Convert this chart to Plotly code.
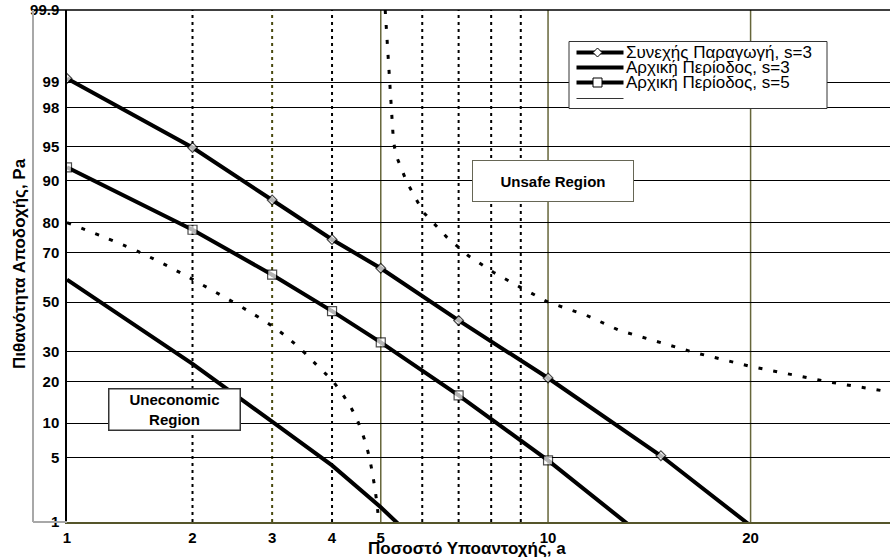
import plotly.graph_objects as go
from statistics import NormalDist

# ---------------- data (percent values) ----------------
x_cont = [1, 2, 3, 4, 5, 7, 10, 15, 20]
p_cont = [99.1, 94.9, 86.0, 74.6, 64.0, 42.3, 21.1, 5.2, 0.9]

x_init3 = [1, 2, 3, 4, 5, 5.5]
p_init3 = [59.4, 25.7, 10.3, 4.2, 1.5, 0.85]

x_init5 = [1, 2, 3, 4, 5, 7, 10, 14]
p_init5 = [92.3, 77.8, 61.4, 46.2, 33.5, 16.2, 4.7, 0.7]

x_uneco = [1, 1.5, 2, 3, 3.41, 3.8, 4, 4.25, 4.48, 4.7, 4.84, 4.93, 4.96]
p_uneco = [80, 70.2, 59.5, 40, 31.7, 23.8, 20.4, 15.5, 10.9, 6.1, 3.0, 1.4, 0.9]

x_unsafe = [5.10, 5.21, 5.25, 5.29, 5.35, 5.61, 6.03, 6.66, 7.28, 8.07, 8.97, 10,
            11.55, 13, 16.7, 19.2, 20, 25.1, 29.3, 30]
p_unsafe = [99.9, 99, 98, 95.6, 94, 89.8, 82.9, 75.4, 68.9, 62.4, 56.3, 50,
            44.4, 38.2, 29.8, 25.9, 24.8, 19.9, 17.1, 16.8]

y_ticks = [1, 5, 10, 20, 30, 50, 70, 80, 90, 95, 98, 99, 99.9]
y_tick_text = ["1", "5", "10", "20", "30", "50", "70", "80", "90", "95", "98", "99", "99.9"]
x_ticks = [1, 2, 3, 4, 5, 10, 20]
x_dotted_grid = [2, 4, 6, 7, 8, 9]
x_olive_dotted_grid = [3]
x_solid_grid = [5, 10, 20]
x_max = 29.5

legend_names = ["Συνεχής Παραγωγή, s=3", "Αρχική Περίοδος, s=3", "Αρχική Περίοδος, s=5"]

# ---------------- helpers ----------------
ND = NormalDist()


def probit(p):
    return ND.inv_cdf(p / 100.0)


def pz(vals):
    return [probit(v) for v in vals]


W, H = 890, 560
ML, MR, MT, MB = 67, 0, 10, 38
PW, PH = W - ML - MR, H - MT - MB


def fx(px):  # pixel x -> paper
    return (px - ML) / PW


def fy(py):  # pixel y -> paper
    return (H - MB - py) / PH


FONT = "Liberation Sans, Arial, sans-serif"
OLIVE = "#66663a"

fig = go.Figure()

dot_style = dict(color="black", width=3, dash="4px,11px")
fig.add_trace(go.Scatter(x=pz(x_uneco), y=pz(p_uneco), mode="lines", line=dot_style,
                         line_shape="spline", showlegend=False, hoverinfo="skip"))
fig.add_trace(go.Scatter(x=pz(x_unsafe), y=pz(p_unsafe), mode="lines", line=dot_style,
                         showlegend=False, hoverinfo="skip"))

fig.add_trace(go.Scatter(x=pz(x_init3), y=pz(p_init3), mode="lines",
                         line=dict(color="black", width=4), name=legend_names[1],
                         showlegend=False))
fig.add_trace(go.Scatter(x=pz(x_init5), y=pz(p_init5), mode="lines+markers",
                         line=dict(color="black", width=4), name=legend_names[2],
                         marker=dict(symbol="square", size=[9] * (len(x_init5) - 1) + [0],
                                     color="white", line=dict(color="black", width=1.2)),
                         showlegend=False))
fig.add_trace(go.Scatter(x=pz(x_cont), y=pz(p_cont), mode="lines+markers",
                         line=dict(color="black", width=4), name=legend_names[0],
                         marker=dict(symbol="diamond", size=[7.5] * (len(x_cont) - 1) + [0],
                                     color="white", line=dict(color="black", width=1.2)),
                         showlegend=False))

shapes = []
# vertical gridlines
for v in x_dotted_grid:
    shapes.append(dict(type="line", xref="x", yref="paper", x0=probit(v), x1=probit(v),
                       y0=0, y1=1, layer="below",
                       line=dict(color="black", width=2, dash="3px,4px")))
for v in x_olive_dotted_grid:
    shapes.append(dict(type="line", xref="x", yref="paper", x0=probit(v), x1=probit(v),
                       y0=0, y1=1, layer="below",
                       line=dict(color="#4a4a10", width=2, dash="3px,4px")))
for v in x_solid_grid:
    shapes.append(dict(type="line", xref="x", yref="paper", x0=probit(v), x1=probit(v),
                       y0=0, y1=1, layer="below",
                       line=dict(color=OLIVE, width=1.5)))

# outer frame (label area)
shapes.append(dict(type="line", xref="paper", yref="paper", x0=fx(33), x1=1, y0=1, y1=1,
                   line=dict(color="black", width=1.5)))
shapes.append(dict(type="line", xref="paper", yref="paper", x0=fx(33), x1=fx(33), y0=0, y1=1,
                   line=dict(color="#a8a8a8", width=2)))
shapes.append(dict(type="line", xref="paper", yref="paper", x0=fx(33), x1=0, y0=0, y1=0,
                   line=dict(color="#a8a8a8", width=2)))

# manual legend
shapes.append(dict(type="rect", xref="paper", yref="paper", x0=fx(569), x1=fx(827),
                   y0=fy(108.5), y1=fy(41.5), fillcolor="white",
                   line=dict(color="#333333", width=1)))
leg_rows = [52.5, 67.5, 82.5]
for ry in leg_rows:
    shapes.append(dict(type="line", xref="paper", yref="paper", x0=fx(576.5), x1=fx(623.5),
                       y0=fy(ry), y1=fy(ry), line=dict(color="black", width=4)))
shapes.append(dict(type="line", xref="paper", yref="paper", x0=fx(576.5), x1=fx(623.5),
                   y0=fy(98.5), y1=fy(98.5), line=dict(color="#333333", width=1)))
shapes.append(dict(type="path", xref="paper", yref="paper", xsizemode="pixel", ysizemode="pixel",
                   xanchor=fx(597.5), yanchor=fy(leg_rows[0]),
                   path="M -4.5 0 L 0 4.5 L 4.5 0 L 0 -4.5 Z", fillcolor="white",
                   line=dict(color="black", width=1)))
shapes.append(dict(type="rect", xref="paper", yref="paper", xsizemode="pixel", ysizemode="pixel",
                   xanchor=fx(597.5), yanchor=fy(leg_rows[2]), x0=-4.5, x1=4.5, y0=-4.5, y1=4.5,
                   fillcolor="white", line=dict(color="black", width=1)))

annotations = []
for ry, name in zip(leg_rows, legend_names):
    annotations.append(dict(text=name, xref="paper", yref="paper", x=fx(624), y=fy(ry - 0.5),
                            xanchor="left", yanchor="middle", showarrow=False,
                            font=dict(family=FONT, size=17, color="black")))

annotations.append(dict(text="<b>Unsafe Region</b>", xref="paper", yref="paper",
                        x=fx(552.5), y=fy(181), xanchor="center", yanchor="middle",
                        showarrow=False, width=158, height=38, bgcolor="white",
                        bordercolor="#666655", borderwidth=1, borderpad=1,
                        font=dict(family=FONT, size=15, color="black")))
annotations.append(dict(text="<b>Uneconomic<br>Region</b>", xref="paper", yref="paper",
                        x=fx(174), y=fy(409.5), xanchor="center", yanchor="middle",
                        showarrow=False, width=128, height=38, bgcolor="white",
                        bordercolor="#333333", borderwidth=1.5, borderpad=1,
                        font=dict(family=FONT, size=15, color="black")))

annotations.append(dict(text="<b>Ποσοστό Υποαντοχής, a</b>", xref="paper", yref="paper",
                        x=fx(466.5), y=fy(548), xanchor="center", yanchor="middle",
                        showarrow=False, font=dict(family=FONT, size=17, color="black")))
annotations.append(dict(text="<b>Πιθανότητα Αποδοχής, Pa</b>", xref="paper", yref="paper",
                        x=fx(19), y=fy(264), xanchor="center", yanchor="middle", textangle=-90,
                        showarrow=False, font=dict(family=FONT, size=17, color="black")))

fig.update_layout(
    width=W, height=H,
    margin=dict(l=ML, r=MR, t=MT, b=MB),
    paper_bgcolor="white", plot_bgcolor="white",
    shapes=shapes, annotations=annotations,
    showlegend=False,
    font=dict(family=FONT, color="black"),
    xaxis=dict(range=[probit(1), probit(x_max)], tickvals=pz(x_ticks),
               ticktext=[str(v) for v in x_ticks], showgrid=False, zeroline=False,
               showline=True, linecolor="#55552a", linewidth=1.5,
               ticks="outside", ticklen=1, tickcolor="rgba(0,0,0,0)",
               tickfont=dict(family=FONT, size=15, color="black", weight="bold")),
    yaxis=dict(range=[probit(1), probit(99.9)], tickvals=pz(y_ticks), ticktext=y_tick_text,
               showgrid=True, gridcolor="black", gridwidth=1, zeroline=False,
               showline=True, linecolor="black", linewidth=1.5,
               ticks="outside", ticklen=3, tickcolor="rgba(0,0,0,0)",
               tickfont=dict(family=FONT, size=15, color="black", weight="bold")),
)

fig.write_html("out.html", config={"displayModeBar": False},
               post_script="document.body.style.margin='0px';")
